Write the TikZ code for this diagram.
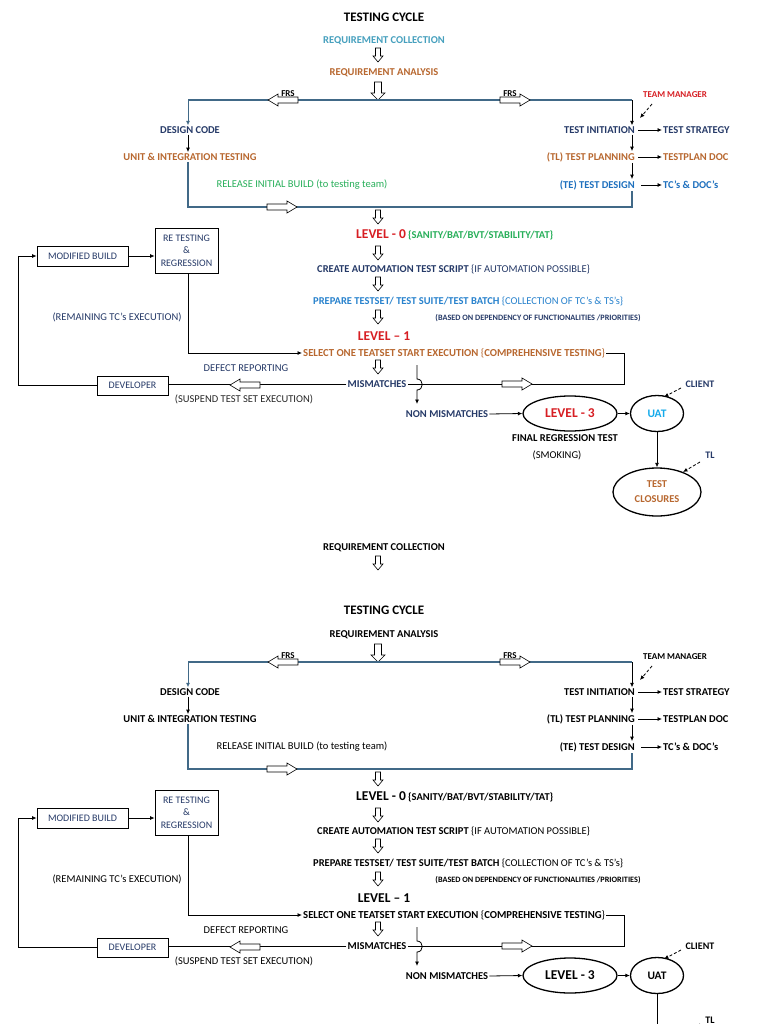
\documentclass[tikz,border=0pt]{standalone}
\usepackage{fontspec}
\setmainfont{Carlito}
\usetikzlibrary{arrows.meta,shapes.geometric,calc}

\definecolor{tBrown}{RGB}{184,104,48}
\definecolor{tNavy}{RGB}{38,58,104}
\definecolor{tBlue}{RGB}{30,112,190}
\definecolor{tPrep}{RGB}{40,130,205}
\definecolor{tGreen}{RGB}{40,175,90}
\definecolor{tRed}{RGB}{215,30,35}
\definecolor{tTeal}{RGB}{70,160,190}
\definecolor{tUat}{RGB}{20,170,235}
\definecolor{tLine}{RGB}{65,105,135}
\definecolor{tDark}{RGB}{40,40,40}

\colorlet{cBrown}{tBrown}
\colorlet{cNavy}{tNavy}
\colorlet{cBlue}{tBlue}
\colorlet{cPrep}{tPrep}
\colorlet{cGreen}{tGreen}
\colorlet{cRed}{tRed}
\colorlet{cUat}{tUat}
\colorlet{cSus}{tDark}
\colorlet{cBox}{tNavy}

\tikzset{
  tb/.style={font=\fontsize{10.5}{12}\selectfont\bfseries, inner sep=1pt},
  tr/.style={font=\fontsize{10.5}{12}\selectfont, inner sep=1pt},
  tsm/.style={font=\fontsize{9}{10}\selectfont\bfseries, inner sep=1pt},
  tsmb/.style={font=\fontsize{10}{11}\selectfont\bfseries, inner sep=1pt},
  ttiny/.style={font=\fontsize{8.2}{9}\selectfont\bfseries, inner sep=1pt},
  tlv/.style={font=\fontsize{13.5}{15}\selectfont\bfseries, inner sep=1pt},
  ttitle/.style={font=\fontsize{13}{15}\selectfont\bfseries, inner sep=1pt},
  boxnode/.style={draw, line width=0.8pt, text=cBox, font=\fontsize{10}{12.5}\selectfont, align=center, inner sep=0pt},
  ellnode/.style={ellipse, draw, line width=1.3pt, inner sep=0pt, align=center},
  arr/.style={-{Latex[length=4.5pt,width=4pt]}, line width=0.8pt},
  dasharr/.style={dash pattern=on 3pt off 2pt, -{Latex[length=4.5pt,width=4pt]}, line width=0.8pt},
  ln/.style={line width=1pt},
  tln/.style={line width=1.1pt, draw=tLine},
  hdown/.pic={\draw[line width=0.6pt,fill=white] (-2.5,0) -- (-2.5,8) -- (-5,8) -- (0,14) -- (5,8) -- (2.5,8) -- (2.5,0) -- cycle;},
  hdownbig/.pic={\draw[line width=0.6pt,fill=white] (-3.5,0) -- (-3.5,11) -- (-7,11) -- (0,18) -- (7,11) -- (3.5,11) -- (3.5,0) -- cycle;},
  hright/.pic={\draw[line width=0.6pt,fill=white] (0,-3) -- (20,-3) -- (20,-6) -- (30,0) -- (20,6) -- (20,3) -- (0,3) -- cycle;},
  hleft/.pic={\draw[line width=0.6pt,fill=white] (0,-3) -- (-20,-3) -- (-20,-6) -- (-30,0) -- (-20,6) -- (-20,3) -- (0,3) -- cycle;},
}

\newcommand\mycycle{%
  \node[tb, text=cBrown] (ra) at (384,73) {REQUIREMENT ANALYSIS};
  \pic at (378,82) {hdownbig};
  \coordinate (L) at (188,100);
  \coordinate (R) at (632,100);
  \draw[tln] (L) -- (R);
  \pic at (298,100) {hleft};
  \pic at (500,100) {hright};
  \node[tsm] (frsa) at (288,94) {FRS};
  \node[tsm] (frsb) at (510,94) {FRS};
  % left column
  \node[tb, text=cNavy] (dc) at (190,130) {DESIGN CODE};
  \draw[arr, draw=tLine] (L) -- (L |- dc.north);
  \node[tb, text=cBrown] (uit) at (190,157) {UNIT \& INTEGRATION TESTING};
  \draw[arr] (dc.south -| L) -- (uit.north -| L);
  \node[tr, text=cGreen] (rib) at (302,185) {RELEASE INITIAL BUILD (to testing team)};
  % right column
  \node[tb, text=cNavy, anchor=east] (ti) at (636,130) {TEST INITIATION};
  \draw[arr] (R) -- (R |- ti.north);
  \node[tsm, text=cRed] (tm) at (675,95) {TEAM MANAGER};
  \coordinate (tma) at (652,104);
  \coordinate (tmb) at (640,118);
  \draw[dasharr] (tma) -- (tmb);
  \node[tb, text=cNavy, anchor=west] (ts) at (662,130) {TEST STRATEGY};
  \draw[arr, shorten <=2pt] (ti.east) -- (ts.west);
  \node[tb, text=cBrown, anchor=east] (tp) at (636,157) {(TL) TEST PLANNING};
  \draw[arr] (ti.south -| R) -- (tp.north -| R);
  \node[tb, text=cBrown, anchor=west] (tpd) at (662,157) {TESTPLAN DOC};
  \draw[arr, shorten <=2pt] (tp.east) -- (tpd.west);
  \node[tb, text=cBlue, anchor=east] (td) at (636,185) {(TE) TEST DESIGN};
  \draw[arr] (tp.south -| R) -- (td.north -| R);
  \node[tb, text=cBlue, anchor=west] (tcd) at (662,185) {TC’s \& DOC’s};
  \draw[arr, shorten <=5pt] (td.east) -- (tcd.west);
  % release line
  \coordinate (BL) at (188,207);
  \coordinate (BR) at (632,207);
  \draw[tln] (uit.south -| L) -- (BL) -- (BR) -- (td.south -| R);
  \pic at (267,207) {hright};
  % central column
  \pic at (378,210) {hdown};
  \node[anchor=west, inner sep=1pt] (lz) at (355,235) {\textcolor{cRed}{\fontsize{13.5}{15}\selectfont\bfseries LEVEL - 0} \textcolor{cGreen}{\fontsize{10.5}{12}\selectfont\bfseries\{SANITY/BAT/BVT/STABILITY/TAT\}}};
  \pic at (378,246) {hdown};
  \node[anchor=west, inner sep=1pt, text=cNavy] (cat) at (316,269) {\fontsize{10.5}{12}\selectfont{\bfseries CREATE AUTOMATION TEST SCRIPT} \{IF AUTOMATION POSSIBLE\}};
  \pic at (378,277) {hdown};
  \node[anchor=west, inner sep=1pt, text=cPrep] (pts) at (312,301) {\fontsize{10.5}{12}\selectfont{\bfseries PREPARE TESTSET/ TEST SUITE/TEST BATCH} \{COLLECTION OF TC’s \& TS’s\}};
  \node[ttiny, text=cNavy] (bod) at (538,318) {(BASED ON DEPENDENCY OF FUNCTIONALITIES /PRIORITIES)};
  \pic at (378,310) {hdown};
  \node[tlv, text=cRed] (lo) at (384,336) {LEVEL – 1};
  \node[anchor=west, inner sep=1pt, text=cBrown] (sel) at (302,353) {\fontsize{10.7}{12}\selectfont\bfseries SELECT ONE TEATSET START EXECUTION {\mdseries\{}COMPREHENSIVE TESTING{\mdseries\}}};
  \pic at (378,360) {hdown};
  \node[tb, text=cNavy] (mm) at (377,384) {MISMATCHES};
  % left boxes
  \node[boxnode, minimum width=63pt, minimum height=45pt] (rt) at (186.5,250.5) {RE TESTING\\\&\\REGRESSION};
  \node[boxnode, minimum width=91pt, minimum height=20pt] (mb) at (82.5,256) {MODIFIED BUILD};
  \draw[arr] (mb.east) -- (mb.east -| rt.west);
  \node[tr, text=cNavy] (rem) at (117,317) {(REMAINING TC’s EXECUTION)};
  \draw[arr] (rt.south -| L) -- (L |- sel.west) -- (sel.west);
  \coordinate (SR) at (624,353);
  \draw[ln] (sel.east) -- (SR) -- (SR |- mm.east) -- (mm.east);
  \pic at (502,384) {hright};
  \node[boxnode, minimum width=71pt, minimum height=19pt] (dev) at (132.5,385.5) {DEVELOPER};
  \draw[ln] (mm.west) -- (mm.west -| dev.east);
  \pic at (260,385) {hleft};
  \node[tr, text=cNavy] (dr) at (246,368) {DEFECT REPORTING};
  \node[tr, text=cSus] (sus) at (244,399) {(SUSPEND TEST SET EXECUTION)};
  \coordinate (LL) at (18,385.5);
  \draw[arr] (dev.west) -- (LL) -- (LL |- mb.west) -- (mb.west);
  % hop arrow
  \coordinate (ha) at (417,365);
  \coordinate (hb) at (417,404);
  \draw[arr] (ha) -- (417,379) .. controls (424,379) and (424,390) .. (417,390) -- (hb);
  % level 3
  \node[tb, text=cNavy] (nm) at (447,414) {NON MISMATCHES};
  \node[ellnode, minimum width=94pt, minimum height=35pt, text=cRed, font=\fontsize{13.5}{15}\selectfont\bfseries] (lt) at (570,413.5) {LEVEL - 3};
  \draw[arr] (nm.east) -- (lt.west);
  \node[ellnode, minimum width=53pt, minimum height=36pt, text=cUat, font=\fontsize{11.5}{13}\selectfont\bfseries] (uat) at (657,413.5) {UAT};
  \draw[arr] (lt.east) -- (uat.west);
  \node[tsmb, text=cNavy] (cl) at (700,384) {CLIENT};
  \coordinate (cla) at (681,388);
  \coordinate (clb) at (664,397);
  \draw[dasharr] (cla) -- (clb);
}

\begin{document}
\begin{tikzpicture}[x=1pt,y=-1pt]
\useasboundingbox (0,0) rectangle (768,1024);
\fill[white] (0,0) rectangle (768,1024);

% ---------------- top copy ----------------
\begin{scope}
  \node[ttitle] (title) at (384,17) {TESTING CYCLE};
  \node[tb, text=tTeal] (rc) at (384,41) {REQUIREMENT COLLECTION};
  \pic at (378,48) {hdown};
  \mycycle
  \node[tb] (frt) at (565,438) {FINAL REGRESSION TEST};
  \node[tr] (smk) at (557,455) {(SMOKING)};
  \node[ellnode, minimum width=88pt, minimum height=48pt, text=cBrown, font=\fontsize{10.5}{15}\selectfont\bfseries] (tcl) at (657,492) {TEST\\CLOSURES};
  \draw[arr] (uat.south) -- (tcl.north);
  \node[tsmb, text=cNavy] (tl) at (710,455) {TL};
  \coordinate (tla) at (700,462);
  \coordinate (tlb) at (683,472);
  \draw[dasharr] (tla) -- (tlb);
\end{scope}

% ---------------- bottom copy ----------------
\node[tb] (rcb) at (384,548) {REQUIREMENT COLLECTION};
\pic at (378,556) {hdown};
\node[ttitle] (titleb) at (384,610) {TESTING CYCLE};
\begin{scope}[yshift=-562pt, name prefix=b-]
  \colorlet{cBrown}{black}
  \colorlet{cNavy}{black}
  \colorlet{cBlue}{black}
  \colorlet{cPrep}{black}
  \colorlet{cGreen}{black}
  \colorlet{cRed}{black}
  \colorlet{cUat}{black}
  \colorlet{cSus}{black}
  \colorlet{cBox}{tNavy}
  \mycycle
  \coordinate (ue) at (657,470);
  \draw[ln] (uat.south) -- (ue);
  \node[tsmb] (tl) at (710,458) {TL};
  \coordinate (tla) at (700,462);
  \coordinate (tlb) at (683,472);
  \draw[dasharr] (tla) -- (tlb);
\end{scope}
\end{tikzpicture}
\end{document}
